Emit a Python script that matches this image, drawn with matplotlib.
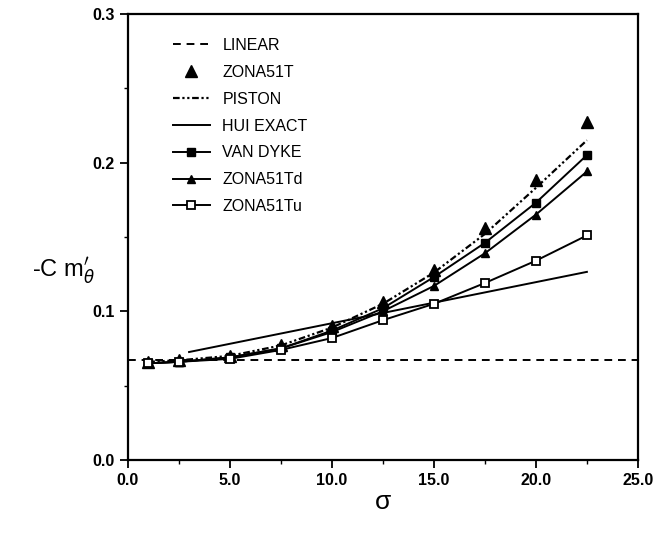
import matplotlib
matplotlib.use("Agg")
import matplotlib.pyplot as plt
from matplotlib.ticker import MultipleLocator, FormatStrFormatter

plt.rcParams['font.family'] = ['Liberation Sans', 'DejaVu Sans']

# data
sigma = [1.0, 2.5, 5.0, 7.5, 10.0, 12.5, 15.0, 17.5, 20.0, 22.5]
zona51t = [0.066, 0.067, 0.070, 0.077, 0.090, 0.106, 0.128, 0.156, 0.188, 0.227]
piston = [0.066, 0.067, 0.070, 0.077, 0.089, 0.105, 0.126, 0.152, 0.183, 0.215]
van_dyke = [0.065, 0.066, 0.069, 0.075, 0.087, 0.102, 0.123, 0.146, 0.173, 0.205]
zona51td = [0.065, 0.066, 0.069, 0.075, 0.086, 0.100, 0.117, 0.139, 0.165, 0.194]
zona51tu = [0.065, 0.066, 0.068, 0.074, 0.082, 0.094, 0.105, 0.119, 0.134, 0.151]

sigma_hui = [3.0, 22.5]
hui_exact = [0.0726, 0.1265]

sigma_lin = [0.0, 25.0]
linear = [0.067, 0.067]

fig = plt.figure(figsize=(6.59, 5.33), dpi=100)
ax = fig.add_axes([0.194, 0.137, 0.774, 0.837])

ax.plot(sigma_lin, linear, color='black', lw=1.4, ls=(0, (4, 3)), label='LINEAR')
ax.plot(sigma, zona51t, color='black', ls='none', marker='^', ms=9, label='ZONA51T')
ax.plot(sigma, piston, color='black', lw=1.6, ls=(0, (3, 1.2, 1, 1.2, 1, 1.2)), label='PISTON')
ax.plot(sigma_hui, hui_exact, color='black', lw=1.4, label='HUI EXACT')
ax.plot(sigma, van_dyke, color='black', lw=1.4, marker='s', ms=6, label='VAN DYKE')
ax.plot(sigma, zona51td, color='black', lw=1.4, marker='^', ms=6, label='ZONA51Td')
ax.plot(sigma, zona51tu, color='black', lw=1.4, marker='s', ms=6, mfc='white', mew=1.3, label='ZONA51Tu')

ax.set_xlim(0, 25)
ax.set_ylim(0, 0.3)
ax.xaxis.set_major_locator(MultipleLocator(5))
ax.xaxis.set_minor_locator(MultipleLocator(2.5))
ax.yaxis.set_major_locator(MultipleLocator(0.1))
ax.yaxis.set_minor_locator(MultipleLocator(0.05))
ax.xaxis.set_major_formatter(FormatStrFormatter('%.1f'))
ax.yaxis.set_major_formatter(FormatStrFormatter('%.1f'))
ax.tick_params(which='major', direction='out', length=6, width=1.3, labelsize=11.5)
ax.tick_params(which='minor', direction='out', length=3, width=1.0)
for lab in ax.get_xticklabels() + ax.get_yticklabels():
    lab.set_fontweight('bold')
for sp in ax.spines.values():
    sp.set_linewidth(1.6)

ax.set_xlabel('σ', fontsize=19, labelpad=1)
ax.set_ylabel(r"-C m$_\theta^{\prime}$", fontsize=17, rotation=0, va='center')
ax.yaxis.set_label_coords(-0.125, 0.425)

ax.legend(loc='upper left', bbox_to_anchor=(0.06, 0.978), frameon=False, fontsize=11.5,
          handlelength=2.3, labelspacing=0.74, handletextpad=0.8)

fig.savefig('out.png', dpi=100)
